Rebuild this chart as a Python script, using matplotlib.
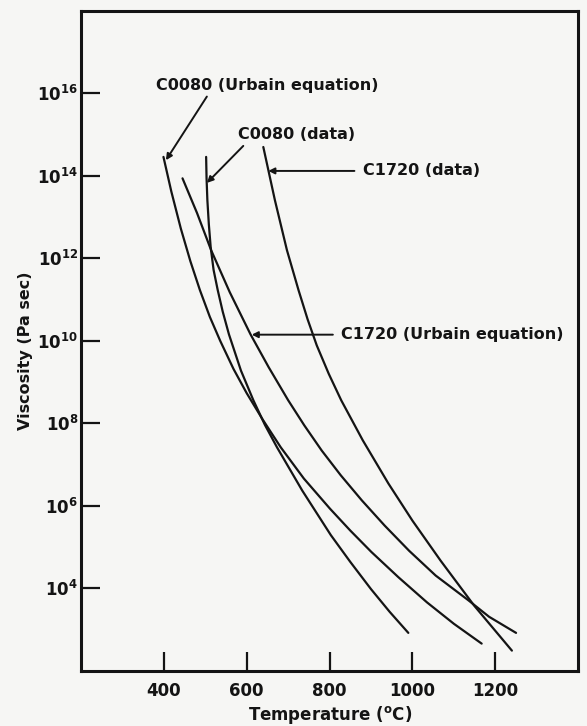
import numpy as np
import matplotlib.pyplot as plt
from matplotlib.ticker import FuncFormatter, NullLocator

# temperature (deg C) and log10 viscosity (Pa sec) along each curve
c0080_urbain_t = [399, 418, 441, 464, 487, 511, 536, 568, 600, 638, 682, 738, 801,
                  850, 901, 966, 1035, 1100, 1167]
c0080_urbain_log = [14.46, 13.62, 12.72, 11.93, 11.23, 10.58, 10.00, 9.32, 8.73, 8.10,
                    7.42, 6.66, 5.93, 5.40, 4.88, 4.27, 3.66, 3.14, 2.66]

c0080_data_t = [502, 503, 505, 508.5, 513, 520, 530, 542, 557, 586, 616, 644, 673,
                734, 803, 850, 900, 945, 990]
c0080_data_log = [14.46, 13.95, 13.41, 12.83, 12.27, 11.72, 11.23, 10.71, 10.16, 9.28,
                  8.56, 7.96, 7.42, 6.37, 5.29, 4.64, 3.98, 3.43, 2.92]

c1720_urbain_t = [445, 480, 514, 559, 609, 653, 700, 739, 781, 827, 878, 933, 992,
                  1056, 1135, 1185, 1250]
c1720_urbain_log = [13.94, 13.10, 12.20, 11.18, 10.16, 9.36, 8.56, 7.95, 7.34, 6.74,
                    6.13, 5.52, 4.91, 4.31, 3.71, 3.31, 2.92]

c1720_data_t = [640, 668, 697, 725, 747, 769, 798, 828, 880, 942, 1000, 1068, 1149, 1240]
c1720_data_log = [14.70, 13.41, 12.20, 11.23, 10.52, 9.89, 9.20, 8.56, 7.59, 6.54,
                  5.64, 4.67, 3.58, 2.49]

x_ticks = [400, 600, 800, 1000, 1200]
y_exponents = [4, 6, 8, 10, 12, 14, 16]

ink = '#141414'
plt.rcParams['font.family'] = 'DejaVu Sans'
plt.rcParams['font.weight'] = 'bold'
plt.rcParams['mathtext.default'] = 'regular'

fig = plt.figure(figsize=(5.87, 7.26), dpi=100, facecolor='#f6f6f4')
ax = fig.add_axes([0.138, 0.076, 0.847, 0.909])
ax.set_facecolor('#f6f6f4')

for t, lg in [(c0080_urbain_t, c0080_urbain_log), (c0080_data_t, c0080_data_log),
              (c1720_urbain_t, c1720_urbain_log), (c1720_data_t, c1720_data_log)]:
    ax.plot(t, 10.0 ** np.array(lg), color=ink, lw=1.6, solid_capstyle='round',
            solid_joinstyle='round')

ax.set_yscale('log')
ax.set_xlim(200, 1400)
ax.set_ylim(1e2, 1e18)
ax.set_xticks(x_ticks)
ax.set_yticks([10.0 ** e for e in y_exponents])
ax.yaxis.set_minor_locator(NullLocator())
ax.yaxis.set_major_formatter(FuncFormatter(lambda v, p: '$10^{%d}$' % round(np.log10(v))))

for s in ax.spines.values():
    s.set_linewidth(2.2)
    s.set_color(ink)
ax.tick_params(axis='both', direction='in', length=14, width=1.6, color=ink,
               labelsize=12, labelcolor=ink)
ax.tick_params(axis='x', pad=8)
ax.tick_params(axis='y', pad=2)

ax.set_xlabel('Temperature ($^{o}$C)', fontsize=12, fontweight='bold', labelpad=3, color=ink)
ax.set_ylabel('Viscosity (Pa sec)', fontsize=11.5, fontweight='bold', color=ink)
ax.yaxis.set_label_coords(-0.097, 0.485)

arrow = dict(arrowstyle='-|>', lw=1.4, color=ink, mutation_scale=9, shrinkB=0)

ax.annotate('C0080 (Urbain equation)', xy=(405, 10 ** 14.38), xytext=(381, 10 ** 16.2),
            ha='left', va='center', fontsize=11.5, color=ink,
            arrowprops=dict(arrow, relpos=(0.24, 0), shrinkA=1))
ax.annotate('C0080 (data)', xy=(504, 10 ** 13.83), xytext=(578, 10 ** 15.0),
            ha='left', va='center', fontsize=11.5, color=ink,
            arrowprops=dict(arrow, relpos=(0.08, 0), shrinkA=1))
ax.annotate('C1720 (data)', xy=(652, 10 ** 14.12), xytext=(880, 10 ** 14.12),
            ha='left', va='center', fontsize=11.5, color=ink,
            arrowprops=dict(arrow, relpos=(0, 0.5), shrinkA=4))
ax.annotate('C1720 (Urbain equation)', xy=(612, 10 ** 10.15), xytext=(828, 10 ** 10.15),
            ha='left', va='center', fontsize=11.5, color=ink,
            arrowprops=dict(arrow, relpos=(0, 0.5), shrinkA=4))

fig.savefig('out.png', dpi=100, facecolor=fig.get_facecolor())
